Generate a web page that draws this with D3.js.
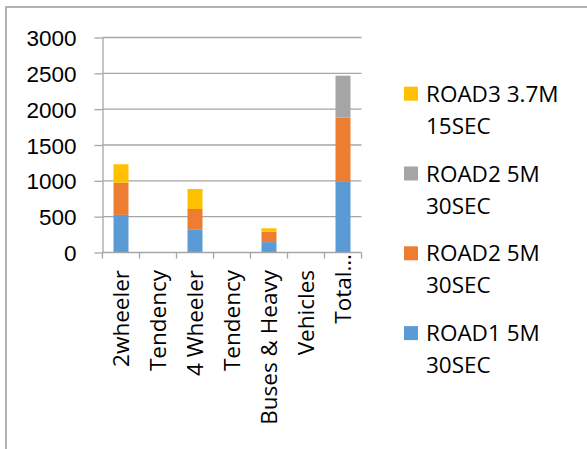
<!DOCTYPE html>
<html lang="en">
<head>
<meta charset="UTF-8">
<title>Vehicle counts by road</title>
<script src="https://d3js.org/d3.v7.min.js"></script>
<style>
  body { margin: 0; background: #fff; }
  svg { display: block; font-family: "Open Sans", sans-serif; }
  .grid line { stroke: #a6a6a6; stroke-width: 1.3px; }
  .axis path, .axis line { stroke: #a6a6a6; stroke-width: 1.3px; }
  .axis text { fill: #000; font-size: 22.5px; }
  .legend text { font-size: 22.5px; fill: #000; }
</style>
</head>
<body>
<div id="chart"></div>
<script>
// category labels (Excel split the long labels over several categories)
const categories = ["2wheeler", "Tendency", "4 Wheeler", "Tendency", "Buses & Heavy", "Vehicles", "Total…"];

// series values, bottom of the stack first
const road1 = [525, 0, 324, 0, 145, 0, 994];
const road2a = [449, 0, 283, 0, 145, 0, 887];
const road2b = [0, 0, 0, 0, 0, 0, 586];
const road3 = [257, 0, 279, 0, 48, 0, 0];

const seriesNames = ["ROAD1 5M 30SEC", "ROAD2 5M 30SEC", "ROAD2 5M 30SEC", "ROAD3 3.7M 15SEC"];
const seriesColors = ["#5b9bd5", "#ed7d31", "#a5a5a5", "#ffc000"];
const yTicks = [0, 500, 1000, 1500, 2000, 2500, 3000];

const W = 587, H = 449;
const plot = { left: 102.5, right: 361.5, top: 37.5, bottom: 252.5 };

const svg = d3.select("#chart").append("svg")
  .attr("width", W)
  .attr("height", H);

// outer chart frame (runs off the right and bottom of the picture)
svg.append("rect")
  .attr("x", 6).attr("y", 7)
  .attr("width", W + 10).attr("height", H + 10)
  .attr("fill", "none")
  .attr("stroke", "#a0a0a0")
  .attr("stroke-width", 1.6);

const rows = categories.map((c, i) => ({
  idx: i, label: c,
  s0: road1[i], s1: road2a[i], s2: road2b[i], s3: road3[i]
}));
const keys = ["s0", "s1", "s2", "s3"];
const stacked = d3.stack().keys(keys)(rows);

const x = d3.scaleBand()
  .domain(rows.map(d => d.idx))
  .range([plot.left, plot.right])
  .paddingInner(0.595)
  .paddingOuter(0.2975);

const y = d3.scaleLinear()
  .domain([0, 3000])
  .range([plot.bottom, plot.top]);

// gridlines
svg.append("g").attr("class", "grid")
  .selectAll("line")
  .data(yTicks.filter(t => t > 0))
  .enter().append("line")
  .attr("x1", plot.left).attr("x2", plot.right)
  .attr("y1", d => y(d)).attr("y2", d => y(d));

// y axis
const yAxis = svg.append("g")
  .attr("class", "axis")
  .attr("transform", `translate(${plot.left},0)`)
  .call(d3.axisLeft(y).tickValues(yTicks).tickFormat(d3.format("d"))
    .tickSize(8).tickSizeOuter(0).tickPadding(18));
yAxis.selectAll("text").attr("dy", "0.36em");

// bars
svg.append("g")
  .selectAll("g")
  .data(stacked)
  .enter().append("g")
  .attr("fill", (d, i) => seriesColors[i])
  .selectAll("rect")
  .data(d => d.filter(p => p[1] - p[0] > 0))
  .enter().append("rect")
  .attr("x", d => x(d.data.idx))
  .attr("width", x.bandwidth())
  .attr("y", d => y(d[1]))
  .attr("height", d => y(d[0]) - y(d[1]));

// x axis: line + tick marks between categories
const xAxis = svg.append("g").attr("class", "axis");
xAxis.append("line")
  .attr("x1", plot.left).attr("x2", plot.right)
  .attr("y1", plot.bottom).attr("y2", plot.bottom);
const bounds = d3.range(categories.length + 1).map(i => plot.left + i * x.step());
xAxis.selectAll(".tick")
  .data(bounds)
  .enter().append("line")
  .attr("class", "tick")
  .attr("x1", d => d).attr("x2", d => d)
  .attr("y1", plot.bottom).attr("y2", plot.bottom + 6);

xAxis.selectAll("text")
  .data(rows)
  .enter().append("text")
  .attr("transform", d => {
    const cx = x(d.idx) + x.bandwidth() / 2;
    const top = d.label.endsWith("…") ? 254 : 270;
    return `translate(${cx},${top}) rotate(-90)`;
  })
  .attr("text-anchor", "end")
  .attr("dy", "0.36em")
  .text(d => d.label);

// legend, top to bottom is reverse of stack order
const legendItems = seriesNames.map((n, i) => ({ name: n, color: seriesColors[i] })).reverse();
const legend = svg.append("g").attr("class", "legend");
const item = legend.selectAll("g")
  .data(legendItems)
  .enter().append("g")
  .attr("transform", (d, i) => `translate(404,${101.7 + i * 79.8})`);

item.append("rect")
  .attr("x", 0).attr("y", -15)
  .attr("width", 14).attr("height", 14)
  .attr("fill", d => d.color);

item.append("text")
  .attr("x", 22)
  .each(function (d) {
    const parts = d.name.split(" ");
    const line1 = parts.slice(0, -1).join(" ");
    const line2 = parts[parts.length - 1];
    d3.select(this).append("tspan").attr("x", 22).attr("y", 0).text(line1);
    d3.select(this).append("tspan").attr("x", 22).attr("y", 32).text(line2);
  });
</script>
</body>
</html>
